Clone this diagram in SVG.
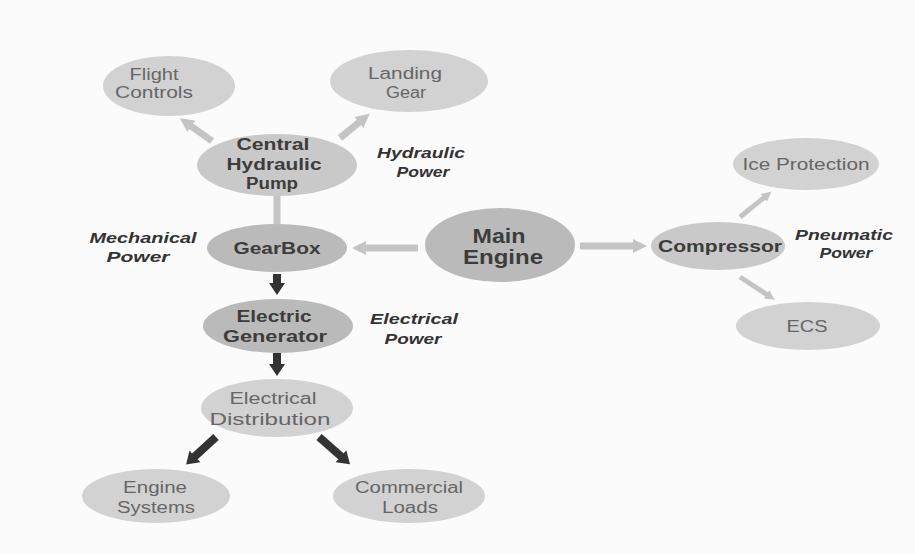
<svg xmlns="http://www.w3.org/2000/svg" width="915" height="554" viewBox="0 0 915 554">
<style>
.bg{fill:#fbfbfb}
.lt{fill:#d2d2d2}
.dk{fill:#bababa}
.md{fill:#c9c9c9}
text{font-family:"Liberation Sans",Arial,sans-serif;text-anchor:middle}
.r{font-size:16px;fill:#666666}
.b{font-size:16px;font-weight:bold;fill:#3c3c3c}
.big{font-size:21px;font-weight:bold;fill:#3c3c3c}
.i{font-size:14px;font-weight:bold;font-style:italic;fill:#333333}
.la{stroke:#c4c4c4;stroke-width:7;fill:none}
.lt2{stroke:#c4c4c4;stroke-width:5;fill:none}
.da{stroke:#333333;stroke-width:8;fill:none}
</style>
<defs>
<marker id="hl" markerUnits="userSpaceOnUse" markerWidth="16" markerHeight="16" viewBox="0 0 16 16" refX="4" refY="8" orient="auto">
<path d="M0,1 L14,8 L0,15 z" fill="#c4c4c4"/>
</marker>
<marker id="hs" markerUnits="userSpaceOnUse" markerWidth="12" markerHeight="12" viewBox="0 0 12 12" refX="3" refY="6" orient="auto">
<path d="M0,1 L10,6 L0,11 z" fill="#c4c4c4"/>
</marker>
<marker id="hd" markerUnits="userSpaceOnUse" markerWidth="18" markerHeight="18" viewBox="0 0 18 18" refX="4" refY="9" orient="auto">
<path d="M0,1 L12,9 L0,17 z" fill="#333333"/>
</marker>
</defs>
<rect class="bg" x="0" y="0" width="915" height="554"/>
<g id="connectors">
<line class="la" x1="418" y1="248" x2="362" y2="248" marker-end="url(#hl)"/>
<line class="la" x1="580" y1="246" x2="637" y2="246" marker-end="url(#hl)"/>
<line class="la" x1="277" y1="224" x2="277" y2="184" marker-end="url(#hl)"/>
<line class="la" x1="212" y1="141" x2="188" y2="124" marker-end="url(#hl)"/>
<line class="la" x1="340" y1="138" x2="362" y2="120" marker-end="url(#hl)"/>
<line class="lt2" x1="740" y1="217" x2="766" y2="196" marker-end="url(#hs)"/>
<line class="lt2" x1="740" y1="277" x2="769" y2="296" marker-end="url(#hs)"/>
<line class="da" x1="277" y1="274" x2="277" y2="287" marker-end="url(#hd)"/>
<line class="da" x1="277" y1="353" x2="277" y2="368" marker-end="url(#hd)"/>
<line class="da" x1="216" y1="437" x2="192" y2="459" marker-end="url(#hd)"/>
<line class="da" x1="319" y1="437" x2="344" y2="459" marker-end="url(#hd)"/>
</g>
<g id="flight-controls">
<ellipse class="lt" cx="169" cy="86" rx="66" ry="30"/>
<text class="r" x="154" y="80" textLength="49" lengthAdjust="spacingAndGlyphs">Flight</text>
<text class="r" x="154" y="98" textLength="78" lengthAdjust="spacingAndGlyphs">Controls</text>
</g>
<g id="landing-gear">
<ellipse class="lt" cx="409" cy="81" rx="79" ry="31"/>
<text class="r" x="405" y="79" textLength="74" lengthAdjust="spacingAndGlyphs">Landing</text>
<text class="r" x="406" y="98" textLength="40" lengthAdjust="spacingAndGlyphs">Gear</text>
</g>
<g id="central-hydraulic-pump">
<ellipse class="md" cx="277" cy="165" rx="80" ry="31"/>
<text class="b" x="273" y="150" textLength="73" lengthAdjust="spacingAndGlyphs">Central</text>
<text class="b" x="274" y="170" textLength="95" lengthAdjust="spacingAndGlyphs">Hydraulic</text>
<text class="b" x="272" y="189" textLength="52" lengthAdjust="spacingAndGlyphs">Pump</text>
</g>
<g id="hydraulic-power">
<text class="i" x="421" y="158" textLength="88" lengthAdjust="spacingAndGlyphs">Hydraulic</text>
<text class="i" x="423" y="177" textLength="53" lengthAdjust="spacingAndGlyphs">Power</text>
</g>
<g id="gearbox">
<ellipse class="dk" cx="277" cy="248" rx="70" ry="24"/>
<text class="b" x="277" y="254" textLength="87" lengthAdjust="spacingAndGlyphs">GearBox</text>
</g>
<g id="mechanical-power">
<text class="i" x="143" y="243" textLength="107" lengthAdjust="spacingAndGlyphs">Mechanical</text>
<text class="i" x="138" y="262" textLength="63" lengthAdjust="spacingAndGlyphs">Power</text>
</g>
<g id="main-engine">
<ellipse class="dk" cx="500" cy="245" rx="75" ry="37"/>
<text class="big" x="499" y="243" textLength="53" lengthAdjust="spacingAndGlyphs">Main</text>
<text class="big" x="503" y="264" textLength="80" lengthAdjust="spacingAndGlyphs">Engine</text>
</g>
<g id="compressor">
<ellipse class="md" cx="718" cy="246" rx="67" ry="24"/>
<text class="b" x="720" y="252" textLength="124" lengthAdjust="spacingAndGlyphs">Compressor</text>
</g>
<g id="pneumatic-power">
<text class="i" x="844" y="240" textLength="98" lengthAdjust="spacingAndGlyphs">Pneumatic</text>
<text class="i" x="846" y="258" textLength="53" lengthAdjust="spacingAndGlyphs">Power</text>
</g>
<g id="ice-protection">
<ellipse class="lt" cx="806" cy="164" rx="73" ry="26"/>
<text class="r" x="806" y="170" textLength="127" lengthAdjust="spacingAndGlyphs">Ice Protection</text>
</g>
<g id="ecs">
<ellipse class="lt" cx="808" cy="326" rx="72" ry="24"/>
<text class="r" x="807" y="332" textLength="41" lengthAdjust="spacingAndGlyphs">ECS</text>
</g>
<g id="electric-generator">
<ellipse class="dk" cx="278" cy="326" rx="75" ry="27"/>
<text class="b" x="274" y="322" textLength="75" lengthAdjust="spacingAndGlyphs">Electric</text>
<text class="b" x="275" y="342" textLength="104" lengthAdjust="spacingAndGlyphs">Generator</text>
</g>
<g id="electrical-power">
<text class="i" x="414" y="324" textLength="88" lengthAdjust="spacingAndGlyphs">Electrical</text>
<text class="i" x="413" y="344" textLength="57" lengthAdjust="spacingAndGlyphs">Power</text>
</g>
<g id="electrical-distribution">
<ellipse class="lt" cx="277" cy="408" rx="76" ry="29"/>
<text class="r" x="273" y="404" textLength="87" lengthAdjust="spacingAndGlyphs">Electrical</text>
<text class="r" x="270" y="425" textLength="121" lengthAdjust="spacingAndGlyphs">Distribution</text>
</g>
<g id="engine-systems">
<ellipse class="lt" cx="156" cy="496" rx="74" ry="27"/>
<text class="r" x="155" y="493" textLength="64" lengthAdjust="spacingAndGlyphs">Engine</text>
<text class="r" x="156" y="513" textLength="78" lengthAdjust="spacingAndGlyphs">Systems</text>
</g>
<g id="commercial-loads">
<ellipse class="lt" cx="409" cy="496" rx="76" ry="27"/>
<text class="r" x="409" y="493" textLength="108" lengthAdjust="spacingAndGlyphs">Commercial</text>
<text class="r" x="410" y="513" textLength="56" lengthAdjust="spacingAndGlyphs">Loads</text>
</g>
</svg>
